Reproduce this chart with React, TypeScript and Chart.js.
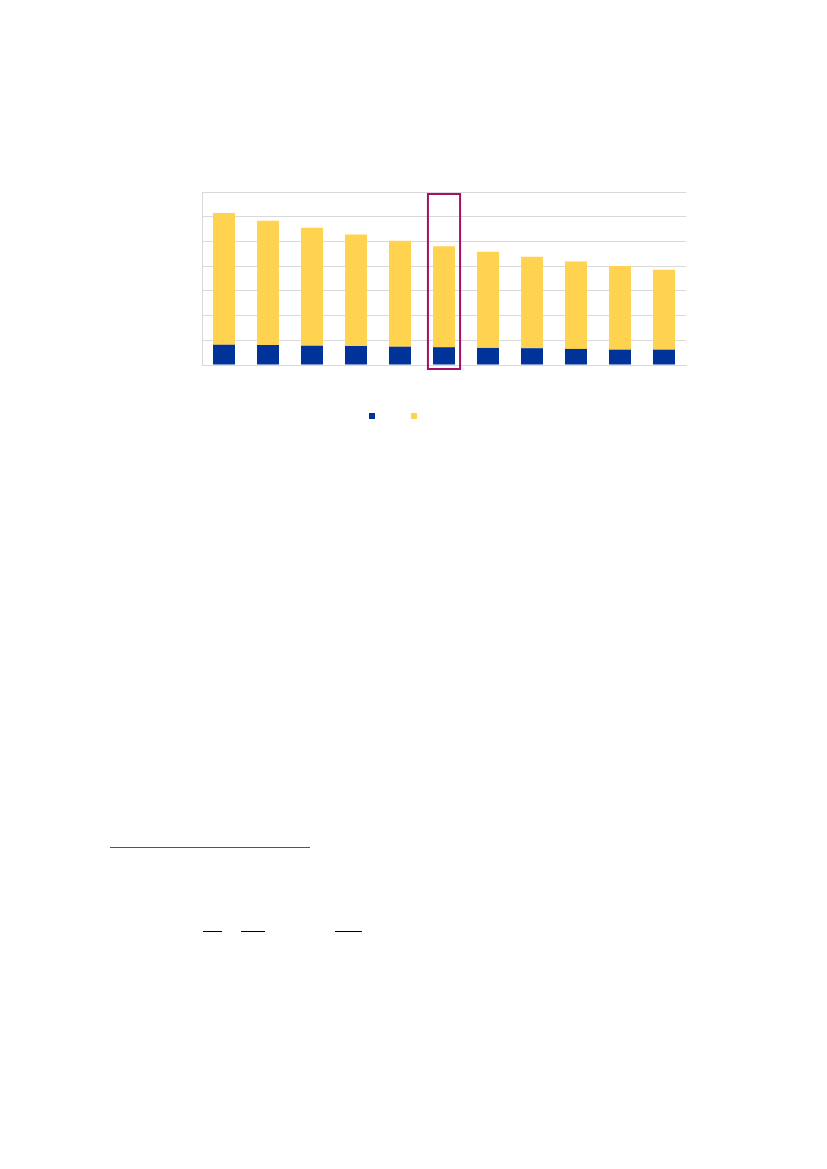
import React, { useEffect, useRef } from "react";
import { Chart, registerables } from "chart.js";

Chart.register(...registerables);

// Data (units = gridline steps x10)
const categories: string[] = ["1", "2", "3", "4", "5", "6", "7", "8", "9", "10", "11"];
const seriesBlue: number[] = [8.2, 8.1, 7.8, 7.7, 7.4, 7.2, 6.9, 6.8, 6.5, 6.2, 6.2];
const seriesYellow: number[] = [53.3, 50.3, 47.7, 45.1, 42.9, 40.8, 38.9, 37.0, 35.4, 33.9, 32.3];
const yTicks: number[] = [0, 10, 20, 30, 40, 50, 60, 70];
const highlightIndex = 5;

const BLUE = "#003399";
const YELLOW = "#FFD24F";
const GRID = "#D9D9D9";
const MAGENTA = "#A50F68";

const highlightPlugin = {
  id: "highlightBox",
  afterDatasetsDraw(chart: any) {
    const { ctx, chartArea, scales } = chart;
    const x = scales.x.getPixelForValue(highlightIndex);
    const half = scales.x.width / categories.length * 0.365;
    ctx.save();
    ctx.strokeStyle = MAGENTA;
    ctx.lineWidth = 2;
    ctx.strokeRect(x - half, chartArea.top + 2, half * 2, chartArea.bottom - chartArea.top + 2);
    ctx.restore();
  },
};

const legendPlugin = {
  id: "squareLegend",
  afterDraw(chart: any) {
    const { ctx, chartArea } = chart;
    const ds = chart.data.datasets;
    const y = chartArea.bottom + 48;
    const startX = chartArea.left + 167;
    const step = 42;
    ctx.save();
    ds.forEach((d: any, i: number) => {
      ctx.fillStyle = d.backgroundColor;
      ctx.fillRect(startX + i * step, y, 6, 6);
    });
    ctx.restore();
  },
};

export default function App() {
  const ref = useRef<HTMLCanvasElement | null>(null);

  useEffect(() => {
    if (!ref.current) return;
    const chart = new Chart(ref.current, {
      type: "bar",
      data: {
        labels: categories,
        datasets: [
          {
            label: "",
            data: seriesBlue,
            backgroundColor: BLUE,
            barPercentage: 0.5,
            categoryPercentage: 1,
            borderWidth: 0,
          },
          {
            label: "",
            data: seriesYellow,
            backgroundColor: YELLOW,
            barPercentage: 0.5,
            categoryPercentage: 1,
            borderWidth: 0,
          },
        ],
      },
      options: {
        animation: false,
        responsive: false,
        devicePixelRatio: 1,
        layout: { padding: { left: 52, right: 24, top: 22, bottom: 75 } },
        plugins: {
          legend: { display: false },
          tooltip: { enabled: false },
          title: { display: false },
        },
        scales: {
          x: {
            stacked: true,
            grid: { display: false, drawTicks: false },
            border: { display: true, color: GRID, width: 1 },
            ticks: { display: false },
          },
          y: {
            stacked: true,
            min: yTicks[0],
            max: yTicks[yTicks.length - 1],
            afterBuildTicks: (axis: any) => {
              axis.ticks = yTicks.map((v) => ({ value: v }));
            },
            grid: { color: GRID, lineWidth: 1, drawTicks: false },
            border: { display: true, color: GRID, width: 1 },
            ticks: { display: false },
          },
        },
      },
      plugins: [highlightPlugin, legendPlugin],
    });
    return () => chart.destroy();
  }, []);

  return (
    <div>
      <div style={{ position: "absolute", left: 150, top: 170, width: 560, height: 270 }}>
        <canvas ref={ref} width={560} height={270} style={{ width: 560, height: 270 }} />
      </div>
      <div style={{ position: "absolute", left: 110, top: 847, width: 200, height: 1, background: "#555" }} />
      <div style={{ position: "absolute", left: 203, top: 931, width: 19, height: 1, background: "#000" }} />
      <div style={{ position: "absolute", left: 241, top: 931, width: 24, height: 1, background: "#000" }} />
      <div style={{ position: "absolute", left: 335, top: 931, width: 27, height: 1, background: "#000" }} />
    </div>
  );
}
